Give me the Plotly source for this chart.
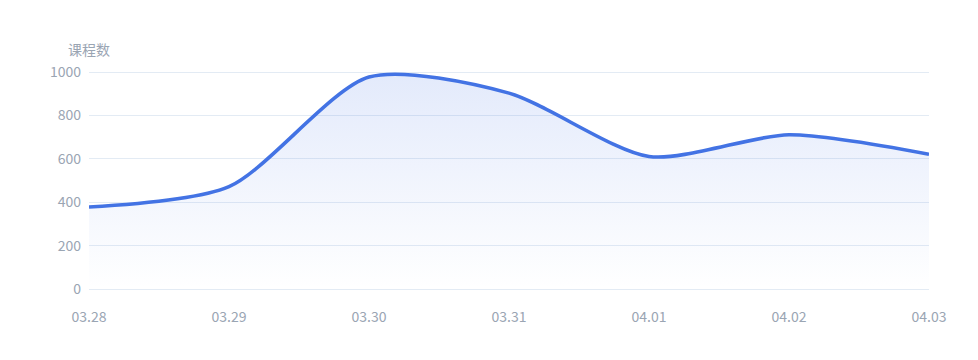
import plotly.graph_objects as go

dates = ["03.28", "03.29", "03.30", "03.31", "04.01", "04.02", "04.03"]
courses = [378, 472, 977, 903, 611, 711, 621]
y_ticks = [0, 200, 400, 600, 800, 1000]
y_name = "课程数"

LINE = "#4373e4"
GRID = "#e3ebf4"
TXT = "#9aa5b3"
FONT = "Noto Sans CJK SC"

fig = go.Figure()
fig.add_trace(go.Scatter(
    x=list(range(len(dates))), y=courses,
    mode="lines",
    line=dict(color=LINE, width=3.6, shape="spline", smoothing=0.75),
    fill="tozeroy",
    fillgradient=dict(type="vertical",
                      colorscale=[[0, "rgba(69,116,230,0.0)"],
                                  [1, "rgba(69,116,230,0.15)"]]),
    hoverinfo="skip",
))

fig.update_layout(
    width=978, height=360,
    margin=dict(l=89, r=49, t=71, b=71),
    paper_bgcolor="white", plot_bgcolor="white",
    showlegend=False,
    font=dict(family=FONT, color=TXT, size=14),
    annotations=[dict(text=y_name, xref="paper", yref="paper",
                      x=0, y=1, xanchor="center", yanchor="bottom",
                      yshift=10, showarrow=False,
                      font=dict(family=FONT, size=14, color=TXT))],
)
fig.update_xaxes(
    range=[0, len(dates) - 1],
    tickvals=list(range(len(dates))), ticktext=dates,
    showgrid=False, zeroline=False, showline=False, ticks="",
    ticklabelstandoff=18,
    tickfont=dict(family=FONT, size=14, color=TXT),
)
fig.update_yaxes(
    range=[0, 1005], tickvals=y_ticks,
    showgrid=True, gridcolor=GRID, gridwidth=1,
    zeroline=True, zerolinecolor=GRID, zerolinewidth=1,
    showline=False, ticks="", ticklabelstandoff=7,
    tickfont=dict(family=FONT, size=14, color=TXT),
)

fig.write_html("out.html")
